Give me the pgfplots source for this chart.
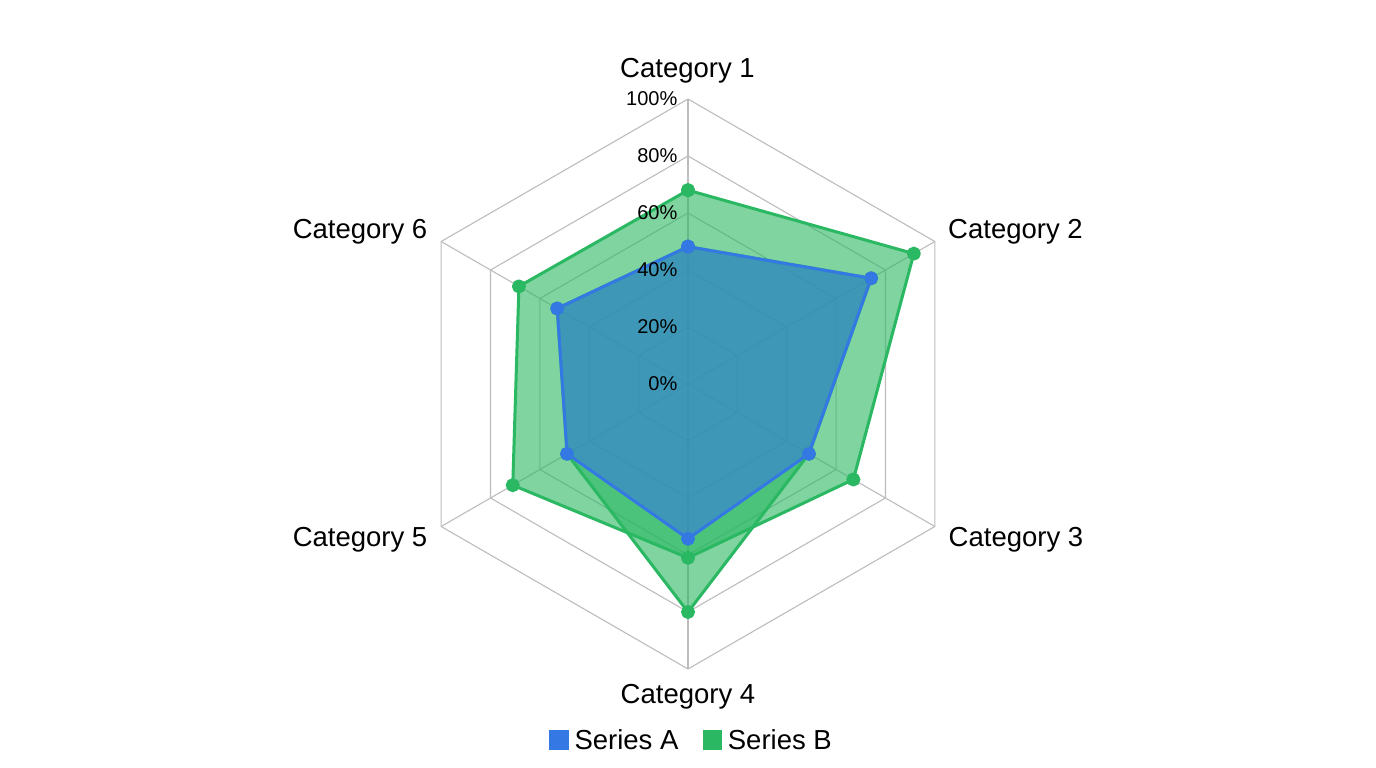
\documentclass[border=0pt]{standalone}
\usepackage{fontspec}
\setmainfont{Liberation Sans}
\usepackage{pgfplots}
\pgfplotsset{compat=1.18}
\usepgfplotslibrary{polar}
\definecolor{cA}{HTML}{3478E4}
\definecolor{cB}{HTML}{2AB862}
\definecolor{gridc}{HTML}{BDBDBD}
\begin{document}
\begin{tikzpicture}
\useasboundingbox[fill=white] (0,0) rectangle (1376bp,768bp);
\begin{polaraxis}[
  at={(688bp,384bp)}, anchor=origin,
  scale only axis, width=570bp, height=570bp,
  ymin=0, ymax=100, xmin=0, xmax=360,
  hide axis, clip=false,
  legend columns=2,
  legend style={draw=none, fill=none, inner sep=0pt, column sep=0pt,
    font=\fontsize{27.5bp}{33bp}\selectfont, nodes={inner sep=0pt},
    at={(axis cs:-89.6,124.9)}, anchor=center},
]
% grid rings
\addplot[gridc, line width=1.1bp, forget plot] coordinates {(90,20)(30,20)(330,20)(270,20)(210,20)(150,20)(90,20)};
\addplot[gridc, line width=1.1bp, forget plot] coordinates {(90,40)(30,40)(330,40)(270,40)(210,40)(150,40)(90,40)};
\addplot[gridc, line width=1.1bp, forget plot] coordinates {(90,60)(30,60)(330,60)(270,60)(210,60)(150,60)(90,60)};
\addplot[gridc, line width=1.1bp, forget plot] coordinates {(90,80)(30,80)(330,80)(270,80)(210,80)(150,80)(90,80)};
\addplot[gridc, line width=1.1bp, forget plot] coordinates {(90,100)(30,100)(330,100)(270,100)(210,100)(150,100)(90,100)};
% spokes
\addplot[gridc, line width=1.1bp, forget plot] coordinates {(90,0)(90,100)};
\addplot[gridc, line width=1.1bp, forget plot] coordinates {(30,0)(30,100)};
\addplot[gridc, line width=1.1bp, forget plot] coordinates {(330,0)(330,100)};
\addplot[gridc, line width=1.1bp, forget plot] coordinates {(270,0)(270,100)};
\addplot[gridc, line width=1.1bp, forget plot] coordinates {(210,0)(210,100)};
\addplot[gridc, line width=1.1bp, forget plot] coordinates {(150,0)(150,100)};
% Series B
\addplot[draw=cB, line width=3bp, line join=round, fill=cB, fill opacity=0.6,
  mark=*, mark size=5.5bp, mark options={draw=none, fill=cB, fill opacity=1}, forget plot]
  coordinates {(90,68)(30,91.5)(330,67)(270,61)(210,71)(150,68.5)(90,68)};
% second green layer
\addplot[draw=cB, line width=3bp, line join=round, fill=cB, fill opacity=0.6,
  mark=*, mark size=5.5bp, mark options={draw=none, fill=cB, fill opacity=1}, forget plot]
  coordinates {(90,48.2)(30,74.2)(330,49)(270,80)(210,49)(150,53)(90,48.2)};
% Series A
\addplot[draw=cA, line width=3bp, line join=round, fill=cA, fill opacity=0.58,
  mark=*, mark size=5.5bp, mark options={draw=none, fill=cA, fill opacity=1}, forget plot]
  coordinates {(90,48.2)(30,74.2)(330,49)(270,54.3)(210,49)(150,53)(90,48.2)};
% tick labels
\foreach \k in {0,20,40,60,80,100}{
  \edef\temp{\noexpand\node[anchor=east, inner sep=0pt, font=\noexpand\fontsize{20bp}{24bp}\noexpand\selectfont, xshift=-10.5bp] at (axis cs:90,\k) {\k\noexpand\%};}
  \temp
}
\addlegendimage{legend image code/.code={\fill[cA] (2bp,-9.3bp) rectangle (20.5bp,9.3bp); \path (27bp,0bp);}}
\addlegendentry{Series A}
\addlegendimage{legend image code/.code={\path (-24.7bp,0bp); \fill[cB] (0bp,-9.3bp) rectangle (17.7bp,9.3bp); \path (24.3bp,0bp);}}
\addlegendentry{Series B}
\end{polaraxis}
\begin{scope}[every node/.style={inner sep=0pt, font=\fontsize{27.5bp}{33bp}\selectfont}]
\node[anchor=base] at (687.5bp,690bp) {Category 1};
\node[anchor=base west] at (948bp,529.5bp) {Category 2};
\node[anchor=base west] at (948.5bp,221bp) {Category 3};
\node[anchor=base] at (688bp,64.7bp) {Category 4};
\node[anchor=base east] at (427.5bp,221bp) {Category 5};
\node[anchor=base east] at (427.5bp,529bp) {Category 6};
\end{scope}
\end{tikzpicture}
\end{document}
